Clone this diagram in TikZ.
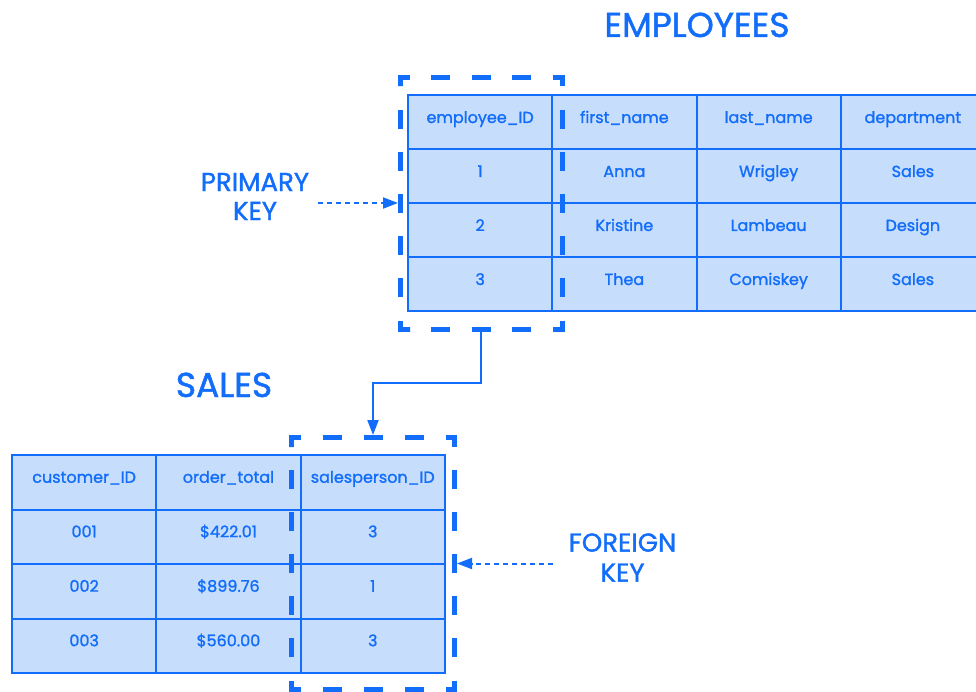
\documentclass[tikz,border=0pt]{standalone}
\usepackage{fontspec}
\setmainfont{Poppins}[UprightFeatures={FakeBold=1.4}]
\usetikzlibrary{arrows.meta}

\definecolor{keyblue}{RGB}{18,110,250}
\definecolor{cellfill}{RGB}{199,221,252}

\tikzset{
  cellbox/.style={draw=keyblue, fill=cellfill, line width=2pt,
    inner sep=0pt, outer sep=0pt},
  celltext/.style={text=keyblue, anchor=base, inner sep=0pt,
    font=\fontsize{16}{19}\selectfont},
  heading/.style={text=keyblue, anchor=base, inner sep=0pt,
    font=\fontsize{34.5}{40}\selectfont},
  keylabel/.style={text=keyblue, align=center, inner sep=0pt},
  keyarea/.style={draw=none, inner sep=0pt, outer sep=0pt},
  keydash/.style={draw=keyblue, line width=5pt, line cap=butt, miter limit=10},
  keyarrow/.style={draw=keyblue, line width=2pt,
    -{Triangle[length=15pt,width=11pt]}},
  keypointer/.style={keyarrow, dash pattern=on 5pt off 4pt},
}

% one side of a key frame, from corner to corner, leaving the corner arms out
\newcommand\frameside[4]{%
  \pgfmathsetmacro\sidelen{veclen(#3-#1,#4-#2)-18}%
  \pgfmathsetmacro\ndash{max(1,round((\sidelen-21)/40))}%
  \pgfmathsetmacro\dgap{(\sidelen-19*\ndash)/(\ndash+1)}%
  \draw[keydash, shorten <=9pt, shorten >=9pt,
        dash pattern=on 19pt off \dgap pt, dash phase=19pt] (#1,#2) -- (#3,#4);%
}
% dashed key frame: name, then left, top, right, bottom of the stroke centre line
\newcommand\keyframe[5]{%
  \node[keyarea, minimum width={#4-#2+5}, minimum height={#5-#3+5}]
    (#1) at ({(#2+#4)/2},{(#3+#5)/2}) {};
  \draw[keydash] (#2,{#3+9}) -- (#2,#3) -- ({#2+9},#3);
  \draw[keydash] ({#4-9},#3) -- (#4,#3) -- (#4,{#3+9});
  \draw[keydash] (#4,{#5-9}) -- (#4,#5) -- ({#4-9},#5);
  \draw[keydash] ({#2+9},#5) -- (#2,#5) -- (#2,{#5-9});
  \frameside{#2}{#3}{#4}{#3}
  \frameside{#4}{#3}{#4}{#5}
  \frameside{#4}{#5}{#2}{#5}
  \frameside{#2}{#5}{#2}{#3}
}

\begin{document}
\begin{tikzpicture}[x=1pt, y=-1pt]
  \clip (0,0) rectangle (976,692);
  \fill[white] (0,0) rectangle (976,692);

  % EMPLOYEES table
  \foreach \rowtxt [count=\r from 0] in {
      {employee\_ID,first\_name,last\_name,department},
      {1,Anna,Wrigley,Sales},
      {2,Kristine,Lambeau,Design},
      {3,Thea,Comiskey,Sales}} {
    \foreach \txt [count=\c from 0] in \rowtxt {
      \node[cellbox, minimum width=144.25pt, minimum height=54pt]
        (emp-\r-\c) at ({408+144.25*(\c+0.5)},{95+54*(\r+0.5)}) {};
      \node[celltext] at ([yshift=-1pt]emp-\r-\c.center) {\txt};
    }
  }

  % SALES table
  \foreach \rowtxt [count=\r from 0] in {
      {customer\_ID,order\_total,salesperson\_ID},
      {001,\$422.01,3},
      {002,\$899.76,1},
      {003,\$560.00,3}} {
    \foreach \txt [count=\c from 0] in \rowtxt {
      \node[cellbox, minimum width=144.3pt, minimum height=54.5pt]
        (sal-\r-\c) at ({12+144.3*(\c+0.5)},{455+54.5*(\r+0.5)}) {};
      \node[celltext] at ([yshift=-0.5pt]sal-\r-\c.center) {\txt};
    }
  }

  % headings
  \node[heading] (emptitle) at (697,37) {EMPLOYEES};
  \node[heading] (saltitle) at (224,397) {SALES};

  % key frames
  \keyframe{pkbox}{400.5}{77.5}{562}{329.5}
  \keyframe{fkbox}{291.5}{437.5}{454.5}{689.5}

  % key labels and pointers
  \node[keylabel, font=\fontsize{26}{29}\selectfont] (pklabel) at (255,196.5)
    {PRIMARY\\KEY};
  \node[keylabel, font=\fontsize{26}{30}\selectfont] (fklabel) at (622.5,557.5)
    {FOREIGN\\KEY};
  \coordinate (pkfrom) at (318,203);
  \coordinate (fkfrom) at (553,563.5);
  \draw[keypointer] (pkfrom) -- (pkfrom -| pkbox.west);
  \draw[keypointer] (fkfrom) -- (fkfrom -| fkbox.east);

  % primary key referenced by the foreign key
  \draw[keyarrow] (pkbox.south) -- ++(0,51) -| (fkbox.north);
\end{tikzpicture}
\end{document}
